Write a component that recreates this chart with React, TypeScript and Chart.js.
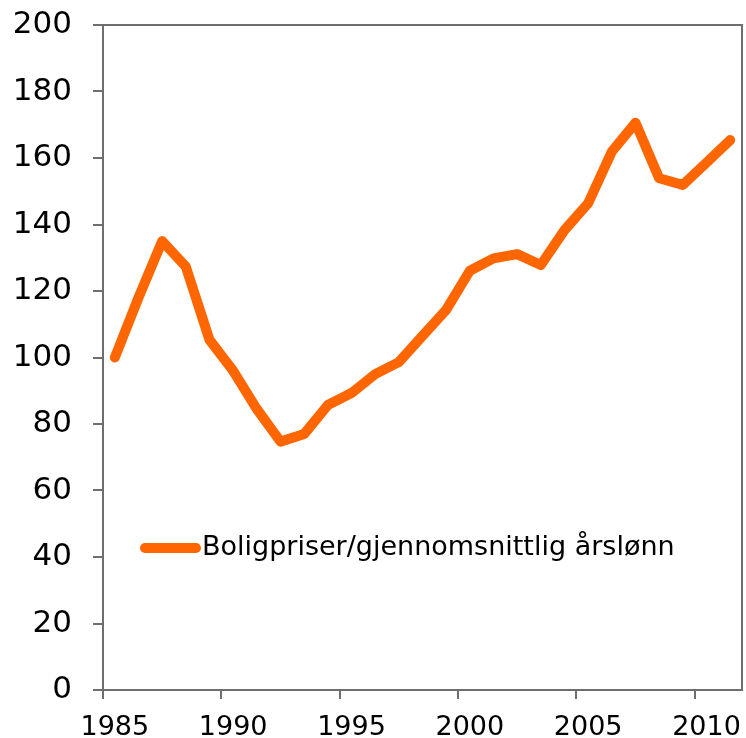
import React, { useEffect, useRef } from "react";
import { Chart, registerables } from "chart.js";

Chart.register(...registerables);

const years = [1985, 1986, 1987, 1988, 1989, 1990, 1991, 1992, 1993, 1994, 1995, 1996, 1997, 1998, 1999, 2000, 2001, 2002, 2003, 2004, 2005, 2006, 2007, 2008, 2009, 2010, 2011];
const ratio = [100, 118, 135, 127.3, 105.3, 96, 84.5, 74.7, 77, 85.7, 89.3, 95, 98.6, 106.5, 114.3, 126.1, 129.8, 131.1, 127.8, 138.3, 146.4, 161.9, 170.6, 153.9, 151.9, 158.6, 165.4];
const labelEvery = 5;
const seriesLabel = "Boligpriser/gjennomsnittlig årslønn";

const ORANGE = "#ff6600";
const AXIS = "#6e6e6e";
const FONT = "'DejaVu Sans', Verdana, sans-serif";

const boxPlugin = {
  id: "box",
  afterDraw(chart: any) {
    const { ctx, chartArea } = chart;
    ctx.save();
    ctx.strokeStyle = AXIS;
    ctx.lineWidth = 2;
    ctx.beginPath();
    ctx.moveTo(chartArea.left - 10, chartArea.top);
    ctx.lineTo(chartArea.right, chartArea.top);
    ctx.lineTo(chartArea.right, chartArea.bottom);
    ctx.stroke();
    ctx.restore();
  },
};

const legendPlugin = {
  id: "innerLegend",
  afterDatasetsDraw(chart: any) {
    const { ctx, chartArea } = chart;
    const ds = chart.data.datasets[0];
    const x0 = chartArea.left + 37;
    const y0 = chartArea.top + 523;
    ctx.save();
    ctx.strokeStyle = ds.borderColor;
    ctx.lineWidth = 10;
    ctx.lineCap = "round";
    ctx.beginPath();
    ctx.moveTo(x0 + 5, y0);
    ctx.lineTo(x0 + 56, y0);
    ctx.stroke();
    ctx.fillStyle = "#000";
    ctx.font = `27px ${FONT}`;
    ctx.textBaseline = "middle";
    ctx.textAlign = "left";
    ctx.fillText(ds.label, x0 + 62, y0);
    ctx.restore();
  },
};

export default function App() {
  const ref = useRef<HTMLCanvasElement>(null);
  useEffect(() => {
    if (!ref.current) return;
    const chart = new Chart(ref.current, {
      type: "line",
      data: {
        labels: years.map(String),
        datasets: [
          {
            label: seriesLabel,
            data: ratio,
            borderColor: ORANGE,
            backgroundColor: ORANGE,
            borderWidth: 10,
            borderCapStyle: "round",
            borderJoinStyle: "round",
            pointRadius: 0,
            tension: 0,
          },
        ],
      },
      options: {
        animation: false,
        responsive: false,
        maintainAspectRatio: false,
        layout: { padding: { left: 0, top: 25, right: 4, bottom: 0 } },
        plugins: { legend: { display: false }, tooltip: { enabled: false } },
        scales: {
          x: {
            type: "category",
            offset: true,
            afterFit: (s: any) => {
              s.height = 48;
              s.paddingLeft = 0;
              s.paddingRight = 0;
            },
            grid: {
              offset: true,
              drawOnChartArea: false,
              drawTicks: true,
              tickLength: 9,
              lineWidth: 2,
              color: (c: any) => (years[c.index] !== undefined && years[c.index] % labelEvery === 0 ? AXIS : "rgba(0,0,0,0)"),
            },
            border: { display: true, color: AXIS, width: 2 },
            ticks: {
              color: "#000",
              font: { family: FONT, size: 27 },
              padding: 13,
              maxRotation: 0,
              autoSkip: false,
              callback: (_v: any, i: number) => (years[i] % labelEvery === 0 ? String(years[i]) : ""),
            },
          },
          y: {
            min: 0,
            max: 200,
            afterFit: (s: any) => {
              s.width = 103;
              s.paddingTop = 0;
              s.paddingBottom = 0;
            },
            grid: { drawOnChartArea: false, drawTicks: true, tickLength: 10, color: AXIS, lineWidth: 2 },
            border: { display: true, color: AXIS, width: 2 },
            ticks: { stepSize: 20, color: "#000", font: { family: FONT, size: 31 }, padding: 21 },
          },
        },
      },
      plugins: [boxPlugin, legendPlugin],
    });
    return () => chart.destroy();
  }, []);
  return (
    <div style={{ position: "fixed", left: 0, top: 0, width: 746, height: 738, background: "#fff" }}>
      <canvas ref={ref} width={746} height={738} style={{ display: "block", width: 746, height: 738 }} />
    </div>
  );
}
